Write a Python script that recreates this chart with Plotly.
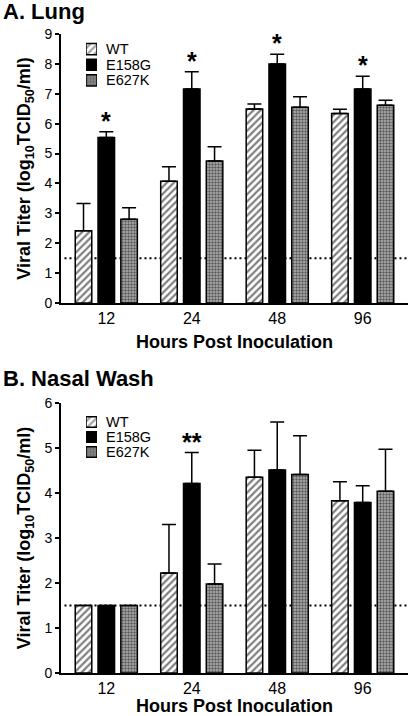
import plotly.graph_objects as go

# ---------------- data ----------------
HOURS = ["12", "24", "48", "96"]
STRAINS = ["WT", "E158G", "E627K"]

LUNG_WT = [2.42, 4.07, 6.49, 6.34]
LUNG_WT_SEM = [0.91, 0.49, 0.17, 0.14]
LUNG_E158G = [5.54, 7.16, 8.00, 7.16]
LUNG_E158G_SEM = [0.19, 0.58, 0.32, 0.43]
LUNG_E627K = [2.80, 4.75, 6.55, 6.62]
LUNG_E627K_SEM = [0.39, 0.48, 0.35, 0.16]
LUNG_SIG = ["*", "*", "*", "*"]

NASAL_WT = [1.50, 2.22, 4.35, 3.83]
NASAL_WT_SEM = [0.0, 1.08, 0.60, 0.42]
NASAL_E158G = [1.50, 4.21, 4.51, 3.79]
NASAL_E158G_SEM = [0.0, 0.69, 1.07, 0.37]
NASAL_E627K = [1.50, 1.98, 4.41, 4.04]
NASAL_E627K_SEM = [0.0, 0.44, 0.86, 0.93]
NASAL_SIG = ["", "**", "", ""]

LOD = 1.5  # detection limit (log10 TCID50/ml)

# ---------------- styling ----------------
FONT = "Liberation Sans, Arial, sans-serif"
W, H = 408, 716
L, R, T, B = 61, 0, 34, 43
PW, PH = W - L - R, H - T - B


def fx(px):
    return (px - L) / PW


def fy(py):
    return (H - B - py) / PH


MARKERS = {
    "WT": dict(color="white", line=dict(color="black", width=1.5),
               pattern=dict(shape="/", fgcolor="black", bgcolor="white", size=5, solidity=0.45)),
    "E158G": dict(color="black", line=dict(color="black", width=1.5)),
    "E627K": dict(color="#8c8c8c", line=dict(color="black", width=1.5),
                  pattern=dict(shape=".", fgcolor="black", bgcolor="#b4b4b4", size=3, solidity=0.5)),
}

fig = go.Figure()

panels = [
    ("x", "y", [LUNG_WT, LUNG_E158G, LUNG_E627K],
     [LUNG_WT_SEM, LUNG_E158G_SEM, LUNG_E627K_SEM], LUNG_SIG),
    ("x2", "y2", [NASAL_WT, NASAL_E158G, NASAL_E627K],
     [NASAL_WT_SEM, NASAL_E158G_SEM, NASAL_E627K_SEM], NASAL_SIG),
]

for xa, ya, vals, sems, sig in panels:
    for name, v, s in zip(STRAINS, vals, sems):
        fig.add_trace(go.Bar(
            x=HOURS, y=v, name=name, xaxis=xa, yaxis=ya, showlegend=False,
            marker=MARKERS[name],
            error_y=dict(type="data", array=s, symmetric=False, arrayminus=[0] * len(s),
                         color="black", thickness=1.5, width=7),
        ))
    # significance marks above the E158G (middle) bar; x given as category index
    for i, (v, s, txt) in enumerate(zip(vals[1], sems[1], sig)):
        if txt:
            fig.add_annotation(x=i, y=v + s, xref=xa, yref=ya, text=txt, showarrow=False,
                               yanchor="bottom", yshift=-5,
                               font=dict(family=FONT, size=25, color="black", weight="bold"))
    # detection limit
    fig.add_shape(type="line", xref=f"{xa} domain", yref=ya, x0=0.01, x1=1, y0=LOD, y1=LOD,
                  line=dict(color="black", width=2, dash="2px,3px"), layer="below")

# legend drawn as tiny bar charts (swatches) with names as tick labels
legend_axes = [("x3", "y3", (fx(86), fx(97)), (fy(88.25), fy(41.25))),
               ("x4", "y4", (fx(86), fx(97)), (fy(459.5), fy(414.5)))]
for xa, ya, xd, yd in legend_axes:
    fig.add_trace(go.Bar(
        y=STRAINS, x=[1, 1, 1], orientation="h", width=0.71, xaxis=xa, yaxis=ya,
        showlegend=False, hoverinfo="skip",
        marker=dict(
            color=[MARKERS[s]["color"] for s in STRAINS],
            line=dict(color="black", width=1.5),
            pattern=dict(
                shape=[MARKERS[s].get("pattern", {}).get("shape", "") for s in STRAINS],
                fgcolor="black",
                bgcolor=[MARKERS[s].get("pattern", {}).get("bgcolor", MARKERS[s]["color"]) for s in STRAINS],
                size=[MARKERS[s].get("pattern", {}).get("size", 5) for s in STRAINS],
                solidity=[MARKERS[s].get("pattern", {}).get("solidity", 0.3) for s in STRAINS],
            ),
        ),
    ))

ytitle = "Viral Titer (log<sub>10</sub>TCID<sub>50</sub>/ml)"
common_x = dict(type="category", range=[-0.53, 3.53], showline=True, linewidth=2,
                linecolor="black", ticks="", showgrid=False, zeroline=False,
                tickfont=dict(family=FONT, size=16, color="black"))
xtitle_font = dict(family=FONT, size=18, color="black", weight="bold")
common_y = dict(showline=True, linewidth=2, linecolor="black", ticks="outside", ticklen=4,
                tickwidth=1.5, tickcolor="black", showgrid=False, zeroline=False, dtick=1,
                tickfont=dict(family=FONT, size=14, color="black"),
                title=dict(text=ytitle, standoff=9,
                           font=dict(family=FONT, size=18, color="black", weight="bold")))

legx = dict(range=[0, 1], visible=False, fixedrange=True)
legy = dict(type="category", categoryorder="array", categoryarray=STRAINS, autorange="reversed",
            tickmode="array", tickvals=STRAINS, ticktext=STRAINS,
            side="right", showline=False, ticks="", showgrid=False, zeroline=False,
            ticklabelstandoff=8, tickfont=dict(family=FONT, size=14.5, color="black"))

fig.update_layout(
    width=W, height=H, margin=dict(l=L, r=R, t=T, b=B, autoexpand=False),
    paper_bgcolor="white", plot_bgcolor="white",
    barmode="group", bargap=0.2, bargroupgap=0.275,
    font=dict(family=FONT, color="black"),
    xaxis=dict(common_x, anchor="y", domain=[0, 1],
               title=dict(text="Hours Post Inoculation", standoff=9, font=xtitle_font)),
    yaxis=dict(common_y, anchor="x", domain=[fy(303), 1], range=[0, 9]),
    xaxis2=dict(common_x, anchor="y2", domain=[0, 1],
                title=dict(text="Hours Post Inoculation", standoff=12, font=xtitle_font)),
    yaxis2=dict(common_y, anchor="x2", domain=[0, fy(403)], range=[0, 6]),
    xaxis3=dict(legx, anchor="y3", domain=list(legend_axes[0][2])),
    yaxis3=dict(legy, anchor="x3", domain=list(legend_axes[0][3])),
    xaxis4=dict(legx, anchor="y4", domain=list(legend_axes[1][2])),
    yaxis4=dict(legy, anchor="x4", domain=list(legend_axes[1][3])),
    showlegend=False,
)

fig.add_annotation(text="A. Lung", xref="paper", yref="paper", x=fx(1), y=fy(12),
                   xanchor="left", yanchor="middle", showarrow=False,
                   font=dict(family=FONT, size=22, color="black", weight="bold"))
fig.add_annotation(text="B. Nasal Wash", xref="paper", yref="paper", x=fx(1), y=fy(378),
                   xanchor="left", yanchor="middle", showarrow=False,
                   font=dict(family=FONT, size=22, color="black", weight="bold"))

# remove the browser's default 8px body margin so the figure fills the window
fig.write_html("out.html", config={"displayModeBar": False},
               post_script="document.body.style.margin='0px';")
